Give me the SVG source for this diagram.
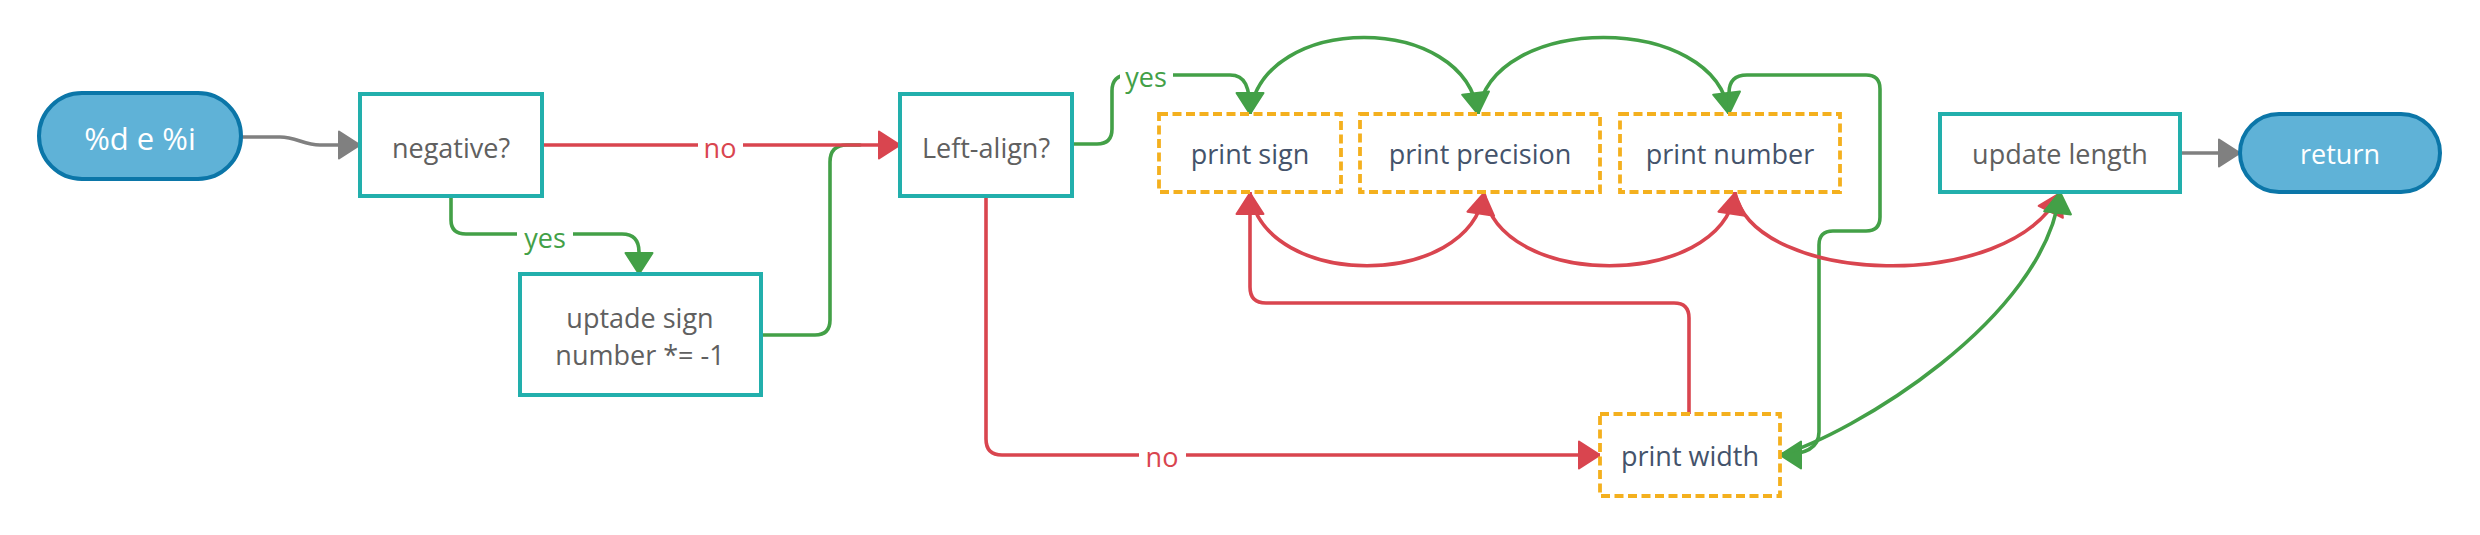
<svg xmlns="http://www.w3.org/2000/svg" width="2480" height="535" viewBox="0 0 2480 535">
<defs>
<style>
.term{fill:#5FB2D7;stroke:#0B76A8;stroke-width:4}
.proc{fill:#fff;stroke:#22AFAC;stroke-width:4}
.act{fill:#fff;stroke:#F4B01E;stroke-width:3.8;stroke-dasharray:9 4.5}
.tw{font-family:"Open Sans","Liberation Sans",sans-serif;fill:#fff;text-anchor:middle;dominant-baseline:central}
.tg{font-family:"Open Sans","Liberation Sans",sans-serif;font-size:27px;fill:#606060;text-anchor:middle;dominant-baseline:central}
.tp{font-family:"Open Sans","Liberation Sans",sans-serif;font-size:27px;fill:#44536B;text-anchor:middle;dominant-baseline:central}
.lbl{font-family:"Open Sans","Liberation Sans",sans-serif;font-size:27px;text-anchor:middle;dominant-baseline:central}
.cr{fill:none;stroke:#D9454F;stroke-width:3.6;stroke-linecap:round;stroke-linejoin:round}
.cg{fill:none;stroke:#43A047;stroke-width:3.6;stroke-linecap:round;stroke-linejoin:round}
.cy{fill:none;stroke:#808080;stroke-width:3.6;stroke-linecap:round;stroke-linejoin:round}
</style>
<marker id="ar" markerUnits="userSpaceOnUse" markerWidth="26" markerHeight="32" refX="21" refY="13.5" orient="auto" viewBox="-2 -2 26 32"><path d="M0,0 L21,13.5 L0,27 z" fill="#D9454F" stroke="#D9454F" stroke-width="2" stroke-linejoin="round"/></marker>
<marker id="ag" markerUnits="userSpaceOnUse" markerWidth="26" markerHeight="32" refX="21" refY="13.5" orient="auto" viewBox="-2 -2 26 32"><path d="M0,0 L21,13.5 L0,27 z" fill="#43A047" stroke="#43A047" stroke-width="2" stroke-linejoin="round"/></marker>
<marker id="ay" markerUnits="userSpaceOnUse" markerWidth="26" markerHeight="32" refX="21" refY="13.5" orient="auto" viewBox="-2 -2 26 32"><path d="M0,0 L21,13.5 L0,27 z" fill="#808080" stroke="#808080" stroke-width="2" stroke-linejoin="round"/></marker>
</defs>
<rect width="2480" height="535" fill="#fff"/>

<g id="connectors">
<path class="cy" d="M241,137 H280 C296,137 304,145 320,145 H360" marker-end="url(#ay)"/>
<path class="cg" d="M451,196 V220 Q451,234 466,234 H622 Q639,234 639,252 V274" marker-end="url(#ag)"/>
<path class="cg" d="M761,335 H815 Q830,335 830,320 V162 Q830,145 847,145 H860"/>
<path class="cr" d="M542,145 H900" marker-end="url(#ar)"/>
<path class="cg" d="M1072,144 H1097 Q1112,144 1112,129 V91 Q1112,75 1128,75 H1230 C1245,75 1250,86 1250,114" marker-end="url(#ag)"/>
<path class="cg" d="M1250,114 C1262,12 1466,12 1478,114" marker-end="url(#ag)"/>
<path class="cg" d="M1478,114 C1490,12 1717,12 1729,114" marker-end="url(#ag)"/>
<path class="cg" d="M1729,114 V93 Q1729,75 1747,75 H1866 Q1880,75 1880,89 V217 Q1880,231 1866,231 H1833 Q1819,231 1819,245 V432 C1819,448 1805,455 1780,455" marker-end="url(#ag)"/>
<path class="cr" d="M986,196 V439 Q986,455 1002,455 H1600" marker-end="url(#ar)"/>
<path class="cr" d="M1689,414 V318 Q1689,303 1674,303 H1266 Q1250,303 1250,287 V193" marker-end="url(#ar)"/>
<path class="cr" d="M1250,193 C1265,290 1469,290 1484,193" marker-end="url(#ar)"/>
<path class="cr" d="M1484,193 C1499,290 1720,290 1735,193" marker-end="url(#ar)"/>
<path class="cr" d="M1735,193 C1755,285 2010,295 2060,193" marker-end="url(#ar)"/>
<path class="cg" d="M1780,455 C1850,435 2045,320 2060,192" marker-end="url(#ag)"/>
<path class="cy" d="M2180,153 H2240" marker-end="url(#ay)"/>
<g id="labels">
<rect x="698" y="132" width="45" height="30" fill="#fff"/>
<text class="lbl" x="720" y="147" fill="#D9454F">no</text>
<rect x="517" y="222" width="56" height="30" fill="#fff"/>
<text class="lbl" x="545" y="237" fill="#43A047">yes</text>
<rect x="1120" y="62" width="53" height="30" fill="#fff"/>
<text class="lbl" x="1146" y="76" fill="#43A047">yes</text>
<rect x="1139" y="441" width="47" height="30" fill="#fff"/>
<text class="lbl" x="1162" y="456" fill="#D9454F">no</text>
</g>
</g>

<g id="start"><rect class="term" x="39" y="93" width="202" height="86" rx="43"/><text class="tw" x="140" y="137.5" font-size="31">%d e %i</text></g>
<g id="negative"><rect class="proc" x="360" y="94" width="182" height="102"/><text class="tg" x="451" y="147">negative?</text></g>
<g id="update-sign"><rect class="proc" x="520" y="274" width="241" height="121"/><text class="tg" x="640" y="317">uptade sign</text><text class="tg" x="640" y="354">number *= -1</text></g>
<g id="left-align"><rect class="proc" x="900" y="94" width="172" height="102"/><text class="tg" x="986" y="147">Left-align?</text></g>
<g id="print-sign"><rect class="act" x="1159" y="114" width="182" height="78"/><text class="tp" x="1250" y="153">print sign</text></g>
<g id="print-precision"><rect class="act" x="1360" y="114" width="240" height="78"/><text class="tp" x="1480" y="153">print precision</text></g>
<g id="print-number"><rect class="act" x="1620" y="114" width="220" height="78"/><text class="tp" x="1730" y="153">print number</text></g>
<g id="print-width"><rect class="act" x="1600" y="414" width="180" height="82"/><text class="tp" x="1690" y="455">print width</text></g>
<g id="update-length"><rect class="proc" x="1940" y="114" width="240" height="78"/><text class="tg" x="2060" y="153">update length</text></g>
<g id="return"><rect class="term" x="2240" y="114" width="200" height="78" rx="39"/><text class="tw" x="2340" y="153" font-size="27">return</text></g>
</svg>
